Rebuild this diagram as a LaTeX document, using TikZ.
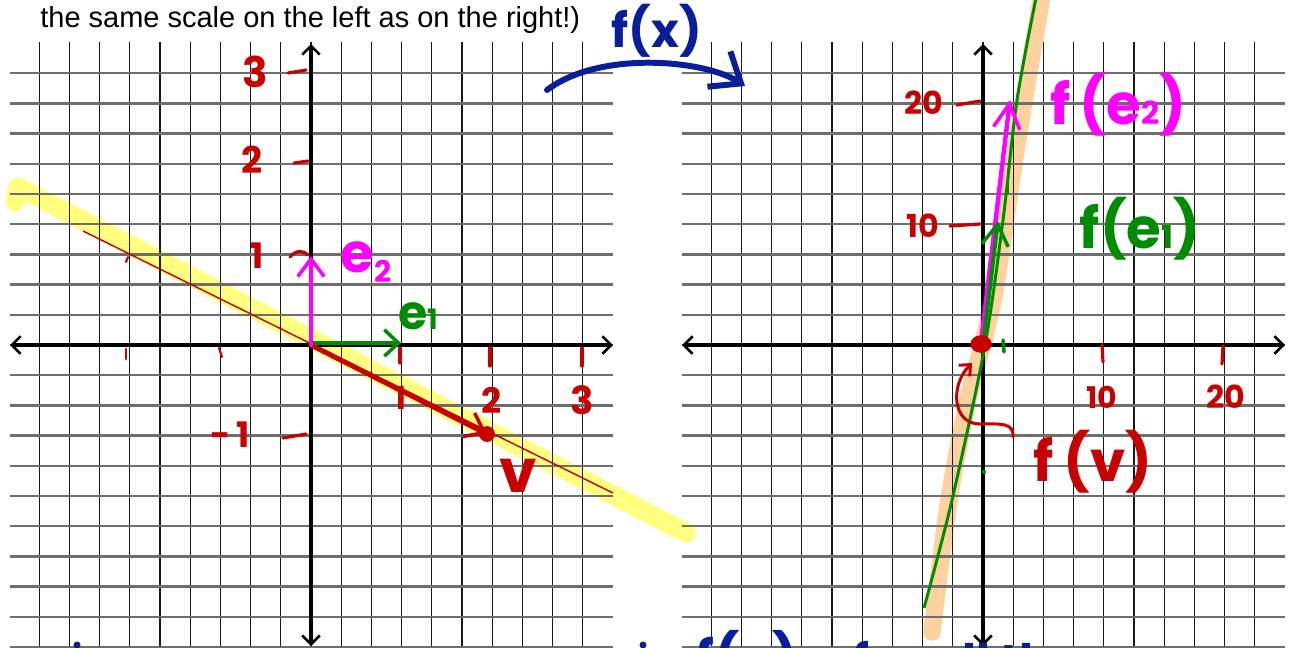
\documentclass[tikz,border=0pt]{standalone}
\usepackage{fontspec}
\setmainfont{Liberation Sans}
\newfontfamily\handfont{Poppins}
\usepackage{xcolor}
\usepackage{tikz}
\usetikzlibrary{arrows.meta, calc}
\definecolor{pen-red}{HTML}{C80000}
\definecolor{pen-magenta}{HTML}{FF00FF}
\definecolor{pen-green}{HTML}{008C00}
\definecolor{pen-blue}{HTML}{0A1E9B}
\definecolor{hl-yellow}{HTML}{FFFF80}
\definecolor{hl-orange}{HTML}{FDD29E}
\definecolor{grid-gray}{HTML}{6E6E6E}

\begin{document}
\begin{tikzpicture}[
			x=0.02cm, y=-0.02cm,
			gridv/.style={draw=black!90, line width=0.75pt},
			gridh/.style={draw=grid-gray, line width=1.3pt},
			axis/.style={
				line width=2.2pt,
				{Straight Barb[length=5pt,width=10pt,line width=1.5pt]}-{Straight Barb[length=5pt,width=10pt,line width=1.5pt]}
			},
			vec/.style={
				line width=2.4pt, line cap=round,
				-{Straight Barb[length=#1,width=15pt,line width=2pt]}
			},
			pentick/.style={draw=pen-red, line width=1.8pt, line cap=round},
			hand/.style={font={\handfont\bfseries\fontsize{#1}{#1}\selectfont}, inner sep=0pt}
			]
			
			\useasboundingbox (0,0) rectangle (1293,647);
			\clip (0,0) rectangle (1293,647);
			
			\def\cell{30.2}
			
			\draw[hl-yellow, line width=11pt, line cap=round, line join=round]
			(15,202) -- (18,187) -- (686,533);
			\draw[hl-orange, line width=10pt, line cap=round]
			plot[smooth] coordinates {(932,632) (949,500) (968,400) (993,300) (1016,150) (1042,-5)};
			
			\foreach \ox in {311,983} {
				\foreach \k in {-9,...,9}
				\draw[gridv] ({\ox+\k*\cell},42) -- ({\ox+\k*\cell},650);
				\foreach \j in {-9,...,10}
				\draw[gridh] ({\ox-301},{345+\j*\cell}) -- ({\ox+302},{345+\j*\cell});
			}
			
			\coordinate (O1) at (311,345);
			\coordinate (O2) at (983,345);
			
			\draw[axis] (10,345) -- (613,345);
			\draw[axis] (311,646) -- (311,44);
			\draw[axis] (682,345) -- (1285,345);
			\draw[axis] (983,646) -- (983,44);
			
			\node[anchor=base west, inner sep=0pt, font=\fontsize{16.5}{16.5}\selectfont] (title) at (40,27)
			{the same scale on the left as on the right!)};
			
			\draw[pen-red, line width=0.8pt] (83,231) -- (613,493);
			
			\coordinate (v) at (487,434);
			\coordinate (e1) at (401,343);
			\coordinate (e2) at (311,256);
			\draw[pen-red, vec=10pt, line width=2.8pt] (O1) -- (v);
			\fill[pen-red] (v) circle (4.5pt);
			\draw[pen-green, vec=8pt] ($(O1)+(0,-2)$) -- (e1);
			\draw[pen-magenta, vec=10pt] (O1) -- (e2);
			
			\draw[pentick] (288,73) -- (306,70);
			\draw[pentick] (294,163) -- (308,161);
			\draw[pentick] (290,257) .. controls (296,250) and (303,250) .. (308,255);
			\draw[pentick] (283,438) -- (306,434);
			\draw[pentick] (400,348) -- (400,363);
			\draw[pentick] (490,348) -- (490,366);
			\draw[pentick] (582,348) -- (582,366);
			\draw[pentick, line width=1.2pt] (126,349) -- (126,359);
			\draw[pentick, line width=1.2pt] (219,348) -- (222,357);
			\draw[pentick, line width=1.2pt] (128,257) -- (126,262);
			
			\node[hand=24, pen-red] (lab3) at (255,72) {3};
			\node[hand=21, pen-red] (lab2) at (252,160) {2};
			\node[hand=20, pen-red] (lab1) at (257,256) {1};
			\node[hand=20, pen-red] (labm1) at (230,435) {-\hspace{3pt}1};
			\node[hand=18, pen-red] (labx1) at (400,398) {1};
			\node[hand=20, pen-red] (labx2) at (492,400) {2};
			\node[hand=22, pen-red] (labx3) at (582,400) {3};
			
			\node[hand=31, pen-magenta] (labe2) at (366,262) {e{\fontsize{17}{17}\selectfont\raisebox{-6pt}{2}}};
			\node[hand=27, pen-green] (labe1) at (418,316) {e{\fontsize{16}{16}\selectfont 1}};
			\node[hand=34, pen-red] (labv) at (518,476) {v};
			
			\coordinate (fe1) at (998,221);
			\coordinate (fe2) at (1010,100);
			\draw[pen-green, line width=1.7pt]
			plot[smooth] coordinates {(924,608) (952,500) (985,345) (1003,220) (1017,100) (1036,-2)};
			\draw[pen-magenta, vec=14pt, line width=2.5pt] (981,342) -- (fe2);
			\draw[pen-green, vec=12pt, line width=2.2pt] (O2) -- (fe1);
			\draw[pen-green, line width=1.5pt, line cap=round] (1008,170) -- (1008,193);
			\draw[pen-green, line width=2pt, line cap=round] (1003,340) -- (1004,352);
			\fill[pen-green] (984,472) circle (1.2pt);
			
			\fill[pen-red] (981,344) ellipse (6pt and 5pt);
			\draw[pen-red, line width=1.7pt, line cap=round, -{Straight Barb[length=5pt,width=9pt]}]
			(1013,437) .. controls (1014,422) and (1000,424) .. (980,424)
			.. controls (952,424) and (950,385) .. (972,363);
			
			\draw[pentick] (957,105) -- (980,101);
			\draw[pentick] (950,226) -- (980,224);
			\draw[pentick] (1102,345) -- (1103,362);
			\draw[pentick] (1223,346) -- (1222,364);
			
			\node[hand=18, pen-red] (lab20) at (924,103) {20};
			\node[hand=18, pen-red] (lab10) at (923,226) {10};
			\node[hand=17, pen-red] (labx10) at (1102,397) {10};
			\node[hand=18, pen-red] (labx20) at (1226,397) {20};
			
			\node[hand=32, pen-red] (labfv) at (1093,462) {f\,(v)};
			\node[hand=32, pen-magenta] (labfe2) at (1118,105) {f\,(e{\fontsize{18}{18}\selectfont 2})};
			\node[hand=32, pen-green] (labfe1) at (1140,229) {f(e{\fontsize{18}{18}\selectfont 1})};
			
			\node[hand=27, pen-blue] (labfx) at (657,31) {f(x)};
			\draw[pen-blue, line width=3.4pt, line cap=round, -{Straight Barb[length=15pt,width=24pt]}]
			(547,90) .. controls (600,50) and (705,60) .. (745,86);
			
			\node[hand=30, pen-blue, anchor=base west] (bottomfv) at (695,678) {f(v)};
			\node[hand=27, pen-blue, anchor=base west] (bottomall) at (852,678) {for all the};
			\fill[pen-blue] (77,645) circle (2pt);
			\fill[pen-blue] (643,645) circle (2pt);
			
		\end{tikzpicture}
\end{document}
